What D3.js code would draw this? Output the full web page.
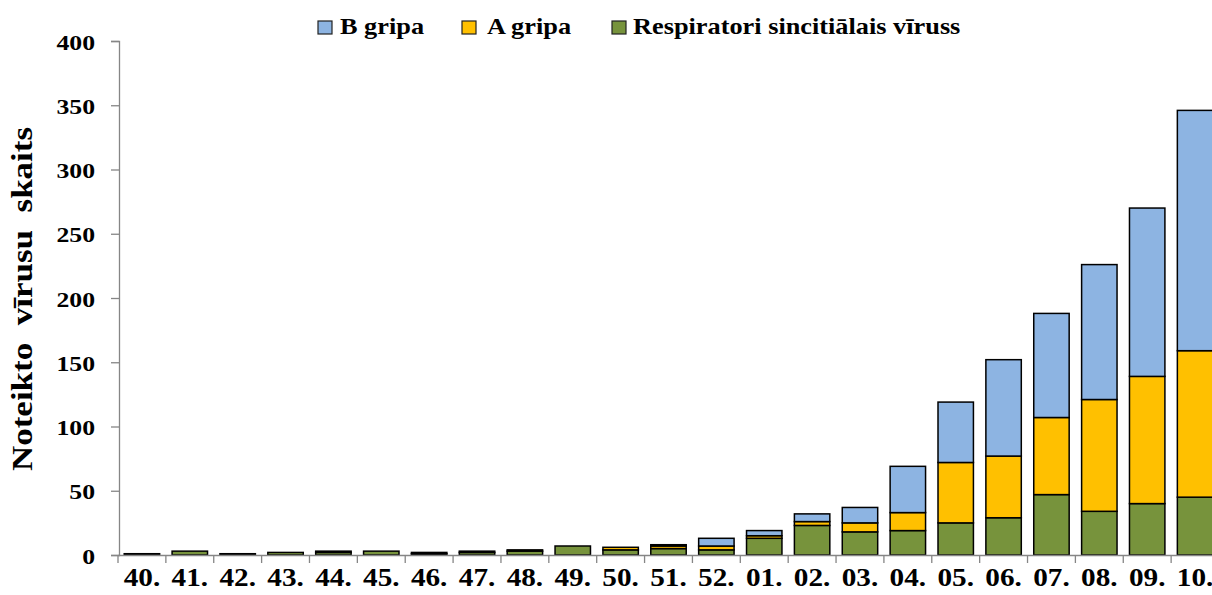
<!DOCTYPE html>
<html>
<head>
<meta charset="utf-8">
<script src="https://cdn.jsdelivr.net/npm/d3@7"></script>
<style>
  body { margin: 0; background: #fff; }
  text { font-family: "Liberation Serif", "Times New Roman", serif; font-weight: bold; fill: #000; }
</style>
</head>
<body>
<script>
var weeks = ["40.", "41.", "42.", "43.", "44.", "45.", "46.", "47.", "48.", "49.", "50.", "51.", "52.",
             "01.", "02.", "03.", "04.", "05.", "06.", "07.", "08.", "09.", "10."];
var rsv   = [1, 3, 1, 2, 2, 3, 1, 2, 3, 7, 4, 5, 4, 13, 23, 18, 19, 25, 29, 47, 34, 40, 45];
var fluA  = [0, 0, 0, 0, 1, 0, 1, 1, 1, 0, 2, 2, 3, 2, 3, 7, 14, 47, 48, 60, 87, 99, 114];
var fluB  = [0, 0, 0, 0, 0, 0, 0, 0, 0, 0, 0, 1, 6, 4, 6, 12, 36, 47, 75, 81, 105, 131, 187];
var yTicks = [0, 50, 100, 150, 200, 250, 300, 350, 400];
var seriesNames = ["Respiratori sincitiālais vīruss", "A gripa", "B gripa"];
var colors = ["#77933C", "#FFC000", "#8DB4E2"];

var width = 1212, height = 595;
var sx = 1.17; // horizontal stretch of the text

var svg = d3.select("body").append("svg")
  .attr("width", width)
  .attr("height", height);

var x = d3.scaleBand().domain(weeks).range([118, 1219]).paddingInner(0.26).paddingOuter(0.13);
var y = d3.scaleLinear().domain([0, 400]).range([555, 41]);

var rows = weeks.map(function(w, i) {
  return { week: w, rsv: rsv[i], a: fluA[i], b: fluB[i] };
});
var stack = d3.stack().keys(["rsv", "a", "b"]);
var layers = stack(rows);

// bars
svg.selectAll("g.layer")
  .data(layers)
  .enter().append("g")
  .attr("class", "layer")
  .attr("fill", function(d, i) { return colors[i]; })
  .selectAll("rect")
  .data(function(d) { return d.filter(function(v) { return v[1] > v[0]; }); })
  .enter().append("rect")
  .attr("x", function(d) { return x(d.data.week); })
  .attr("width", x.bandwidth())
  .attr("y", function(d) { return y(d[1]); })
  .attr("height", function(d) { return y(d[0]) - y(d[1]); })
  .attr("stroke", "#000")
  .attr("stroke-width", 1.5);

// y axis
var yAxis = svg.append("g").attr("transform", "translate(119,0)")
  .call(d3.axisLeft(y).tickValues(yTicks).tickSize(8).tickFormat(d3.format("d")));
yAxis.select(".domain").attr("stroke", "#868686").attr("stroke-width", 1.3);
yAxis.selectAll(".tick line").attr("stroke", "#868686").attr("stroke-width", 1.3);
yAxis.selectAll(".tick text")
  .attr("x", null).attr("dy", null)
  .style("font-size", "22px")
  .attr("text-anchor", "end")
  .attr("font-family", null)
  .attr("transform", "translate(-24,8) scale(" + sx + ",1)");

// x axis
var xAxis = svg.append("g").attr("transform", "translate(0,555)")
  .call(d3.axisBottom(x).tickSize(0).tickSizeOuter(0));
xAxis.select(".domain").attr("stroke", "#868686").attr("stroke-width", 1.3);
xAxis.selectAll(".tick text")
  .attr("y", null).attr("dy", null)
  .style("font-size", "25px")
  .attr("font-family", null)
  .attr("transform", "translate(0,31) scale(" + sx + ",1)");
var step = x.step();
var bounds = d3.range(weeks.length + 1).map(function(i) { return 118 + i * step; });
xAxis.selectAll("line.sep")
  .data(bounds)
  .enter().append("line")
  .attr("class", "sep")
  .attr("x1", function(d) { return d; })
  .attr("x2", function(d) { return d; })
  .attr("y1", 0).attr("y2", 8)
  .attr("stroke", "#868686").attr("stroke-width", 1.3);

// y label
svg.append("text")
  .attr("transform", "translate(32,299) scale(" + sx + ",1.4) rotate(-90)")
  .attr("text-anchor", "middle")
  .style("font-size", "25px")
  .style("white-space", "pre")
  .text("Noteikto  vīrusu  skaits");

// legend
var legendItems = [
  { name: seriesNames[2], color: colors[2], x: 318, tx: 22 },
  { name: seriesNames[1], color: colors[1], x: 462, tx: 25 },
  { name: seriesNames[0], color: colors[0], x: 612, tx: 21 }
];
var lg = svg.selectAll("g.legend")
  .data(legendItems)
  .enter().append("g")
  .attr("class", "legend")
  .attr("transform", function(d) { return "translate(" + d.x + ",0)"; });
lg.append("rect")
  .attr("x", 0).attr("y", 21)
  .attr("width", 14).attr("height", 13)
  .attr("fill", function(d) { return d.color; })
  .attr("stroke", "#222").attr("stroke-width", 1.2);
lg.append("text")
  .attr("transform", function(d) { return "translate(" + d.tx + ",34) scale(" + sx + ",1)"; })
  .style("font-size", "22.5px")
  .text(function(d) { return d.name; });
</script>
</body>
</html>
